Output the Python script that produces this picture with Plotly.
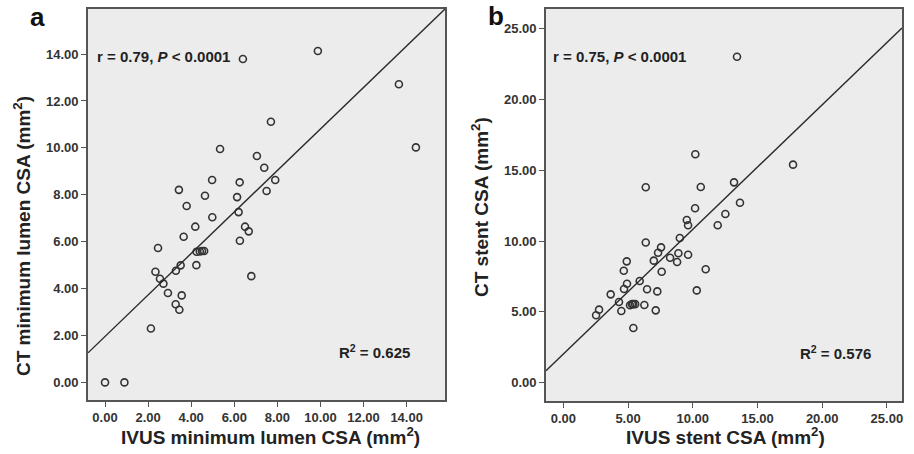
import plotly.graph_objects as go

# ---- Panel a: minimum lumen CSA ----
ivus_lumen = [0.00, 0.90, 2.13, 3.45, 3.28, 3.56, 2.92, 2.71, 2.55, 2.34, 3.29, 3.51, 4.24, 6.79,
              4.25, 4.40, 4.50, 4.60, 2.46, 6.26, 3.65, 6.67, 6.50, 4.19, 4.98, 6.20, 3.79, 6.13,
              4.64, 7.50, 3.43, 6.25, 4.97, 7.90, 7.39, 7.05, 5.34, 14.43, 7.70, 13.64, 6.40, 9.88]
ct_lumen = [0.00, 0.00, 2.30, 3.10, 3.33, 3.71, 3.81, 4.21, 4.42, 4.72, 4.76, 4.99, 5.00, 4.53,
            5.57, 5.58, 5.60, 5.60, 5.73, 6.04, 6.21, 6.44, 6.64, 6.64, 7.04, 7.26, 7.52, 7.90,
            7.96, 8.16, 8.21, 8.53, 8.63, 8.63, 9.15, 9.65, 9.95, 10.02, 11.11, 12.71, 13.79, 14.13]
fit_a_x = [-0.79, 15.78]
fit_a_y = [1.26, 15.92]

# ---- Panel b: stent CSA ----
ivus_stent = [2.53, 2.76, 4.48, 7.14, 5.41, 4.30, 5.15, 5.30, 5.40, 5.55, 6.26, 3.66, 7.26, 6.47,
              4.69, 10.31, 4.92, 5.90, 7.60, 4.67, 11.00, 4.90, 8.79, 6.99, 8.25, 9.64, 8.89, 7.32,
              7.55, 6.37, 9.00, 9.64, 11.93, 9.54, 12.52, 10.18, 13.65, 6.37, 10.62, 13.19, 17.75,
              10.20, 13.42]
ct_stent = [4.76, 5.16, 5.06, 5.11, 3.86, 5.70, 5.47, 5.55, 5.55, 5.55, 5.49, 6.24, 6.45, 6.60,
            6.62, 6.52, 6.99, 7.18, 7.84, 7.91, 8.01, 8.57, 8.52, 8.62, 8.83, 9.04, 9.14, 9.18,
            9.56, 9.90, 10.22, 11.12, 11.12, 11.49, 11.91, 12.32, 12.71, 13.80, 13.82, 14.15, 15.40,
            16.13, 23.02]
fit_b_x = [-1.34, 26.17]
fit_b_y = [0.85, 25.05]

tick_a = [0, 2, 4, 6, 8, 10, 12, 14]
tick_b = [0, 5, 10, 15, 20, 25]

W, H = 914, 454
def px(x): return x / W
def py(y): return 1 - y / H

MK = "#333333"
fig = go.Figure()

for xs, ys, xa, ya in [(ivus_lumen, ct_lumen, "x", "y"), (ivus_stent, ct_stent, "x2", "y2")]:
    fig.add_trace(go.Scatter(x=xs, y=ys, mode="markers", xaxis=xa, yaxis=ya,
                             marker=dict(symbol="circle-open", size=7, color=MK,
                                         line=dict(width=1.6, color=MK)),
                             showlegend=False, hoverinfo="skip"))
for xs, ys, xa, ya in [(fit_a_x, fit_a_y, "x", "y"), (fit_b_x, fit_b_y, "x2", "y2")]:
    fig.add_trace(go.Scatter(x=xs, y=ys, mode="lines", xaxis=xa, yaxis=ya,
                             line=dict(color="#2a2a2a", width=1.4),
                             showlegend=False, hoverinfo="skip"))

tickfont = dict(family="Liberation Sans, Arial", size=13, color="#333333", weight="bold")
axis_common = dict(showgrid=False, zeroline=False, showline=True, mirror=True,
                   linecolor="#555555", linewidth=1.6, ticks="outside", ticklen=5,
                   tickcolor="#555555", tickwidth=1.2, tickformat=".2f", tickfont=tickfont,
                   tickangle=0, fixedrange=True)

fig.update_layout(
    width=W, height=H, margin=dict(l=0, r=0, t=0, b=0),
    paper_bgcolor="white", plot_bgcolor="#ececec",
    xaxis=dict(domain=[px(88), px(445)], range=[-0.79, 15.78], tickvals=tick_a, anchor="y", **axis_common),
    yaxis=dict(domain=[py(400), py(9)], range=[-0.75, 15.92], tickvals=tick_a, anchor="x", **axis_common),
    xaxis2=dict(domain=[px(546), px(902)], range=[-1.34, 26.17], tickvals=tick_b, anchor="y2", **axis_common),
    yaxis2=dict(domain=[py(401), py(9)], range=[-1.29, 26.39], tickvals=tick_b, anchor="x2", **axis_common),
)

title_font = dict(family="Liberation Sans, Arial", size=19, color="#222222", weight="bold")
stat_font = dict(family="Liberation Sans, Arial", size=15, color="#222222", weight="bold")
label_font = dict(family="Liberation Sans, Arial", size=26, color="#111111", weight="bold")

ann = [
    dict(text="a", x=px(37), y=py(17), font=label_font),
    dict(text="b", x=px(496), y=py(16), font=label_font),
    dict(text="IVUS minimum lumen CSA (mm<sup>2</sup>)", x=px(270), y=py(436), font=title_font),
    dict(text="IVUS stent CSA (mm<sup>2</sup>)", x=px(725), y=py(436), font=title_font),
    dict(text="CT minimum lumen CSA (mm<sup>2</sup>)", x=px(22), y=py(236), font=title_font, textangle=-90),
    dict(text="CT stent CSA (mm<sup>2</sup>)", x=px(480), y=py(207), font=title_font, textangle=-90),
    dict(text="r = 0.79, <i>P</i> < 0.0001", x=px(95), y=py(57), font=stat_font, xanchor="left"),
    dict(text="r = 0.75, <i>P</i> < 0.0001", x=px(551), y=py(57), font=stat_font, xanchor="left"),
    dict(text="R<sup>2</sup> = 0.625", x=px(374), y=py(351), font=stat_font),
    dict(text="R<sup>2</sup> = 0.576", x=px(835), y=py(352), font=stat_font),
]
for a in ann:
    a.setdefault("xanchor", "center")
    a.update(xref="paper", yref="paper", yanchor="middle", showarrow=False)
    fig.add_annotation(**a)

fig.write_html("out.html", config={"displayModeBar": False},
               post_script="document.body.style.margin='0';document.body.style.overflow='hidden';")
